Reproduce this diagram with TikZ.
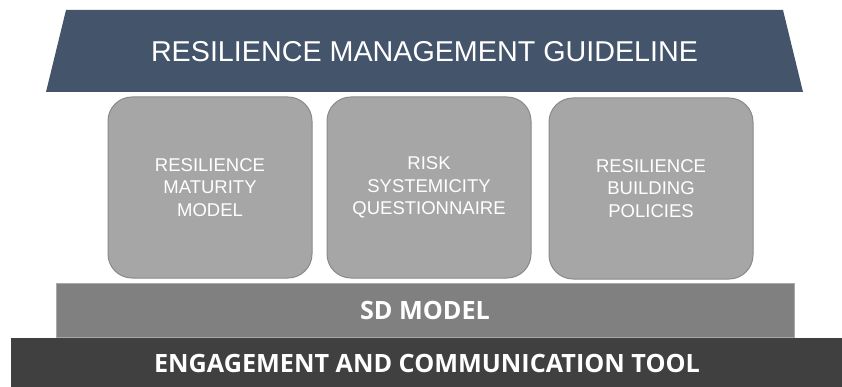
\documentclass[tikz,border=0pt]{standalone}
\usepackage{fontspec}
\setmainfont{Liberation Sans}
\newfontfamily\barfont{Open Sans}
\usetikzlibrary{positioning}
\definecolor{roofblue}{HTML}{44546A}
\definecolor{pillargray}{HTML}{A6A6A6}
\definecolor{pillarline}{HTML}{8A8A8A}
\definecolor{sdgray}{HTML}{808080}
\definecolor{sdline}{HTML}{A8A8A8}
\definecolor{toolgray}{HTML}{404040}
\begin{document}
\begin{tikzpicture}[x=1pt, y=-1pt, node distance=15pt]
    % Style definition for the pillars and the base bars
    \tikzset{pillar/.style={rectangle, rounded corners=24pt, minimum width=204pt, minimum height=181pt,
             align=center, draw=pillarline, line width=1pt, fill=pillargray, text=white,
             inner sep=0pt, outer sep=0pt, font=\fontsize{18.5}{22.5}\selectfont}}
    \tikzset{bar/.style={rectangle, inner sep=0pt, outer sep=0pt, text=white,
             font=\barfont\bfseries\fontsize{25.2}{30}\selectfont}}

    \useasboundingbox (0,0) rectangle (842,387);

    % Roof on top
    \fill [roofblue] (66,10) -- (783,10) -- (803,92) -- (46,92) -- cycle;
    \node (roof) [text=white, font=\fontsize{28.7}{32}\selectfont] at (424.5,52) {RESILIENCE MANAGEMENT GUIDELINE};

    % The three pillars
    \node (maturity) [pillar] at (210,187.5) {RESILIENCE\\MATURITY\\MODEL};
    \node (systemicity) [pillar, right=15pt of maturity] {RISK\\SYSTEMICITY\\QUESTIONNAIRE};
    \node (policies) [pillar, right=18pt of systemicity, yshift=-1pt] {RESILIENCE\\BUILDING\\POLICIES};

    % Base bars
    \node (sdmodel) [bar, minimum width=738pt, minimum height=54pt, fill=sdgray, draw=sdline, line width=0.8pt]
          at (425,310) {SD MODEL};
    \node (tool) [bar, minimum width=832pt, minimum height=50pt, fill=toolgray]
          at (427,363) {ENGAGEMENT AND COMMUNICATION TOOL};
\end{tikzpicture}
\end{document}
